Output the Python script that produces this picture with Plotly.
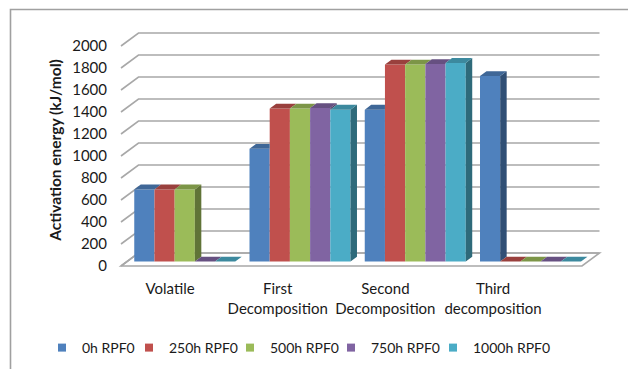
import plotly.graph_objects as go

# ---- data -------------------------------------------------------------
categories = ["Volatile", "First<br>Decomposition", "Second<br>Decomposition", "Third<br>decomposition"]
series_names = ["0h RPF0", "250h RPF0", "500h RPF0", "750h RPF0", "1000h RPF0"]
e_0h = [655, 1025, 1380, 1685]
e_250h = [655, 1390, 1790, 0]
e_500h = [655, 1390, 1790, 0]
e_750h = [0, 1395, 1795, 0]
e_1000h = [0, 1380, 1805, 0]
y_ticks = [0, 200, 400, 600, 800, 1000, 1200, 1400, 1600, 1800, 2000]

series_values = [e_0h, e_250h, e_500h, e_750h, e_1000h]
front_colors = ["#4F81BD", "#C0504D", "#9BBB59", "#8064A2", "#4BACC6"]
legend_widths = [42, 56, 56, 57, 80]


def shade(hex_color, k):
    r, g, b = (int(hex_color[i:i + 2], 16) for i in (1, 3, 5))
    return "#%02x%02x%02x" % (int(r * k), int(g * k), int(b * k))


top_colors = [shade(c, 0.80) for c in front_colors]
side_colors = [shade(c, 0.62) for c in front_colors]

# ---- page geometry (pixels) ------------------------------------------
W, H = 628, 369
FRONT_X0 = 121.0      # pixel of the front-left corner of the floor
PX_PER_CAT = 115.25   # pixels per category slot
FRONT_Y0 = 266.0      # pixel of value 0 on the front plane
PX_PER_UNIT = 0.11    # pixels per kJ/mol

DOM_L, DOM_R, DOM_T, DOM_B = 108, 610, 25, 275

x_range = [(DOM_L - FRONT_X0) / PX_PER_CAT - 0.5, (DOM_R - FRONT_X0) / PX_PER_CAT - 0.5]
y_range = [(FRONT_Y0 - DOM_B) / PX_PER_UNIT, (FRONT_Y0 - DOM_T) / PX_PER_UNIT]

# oblique depth of the whole box (front -> back wall), in axis units
WALL_DX = 17.5 / PX_PER_CAT
WALL_DY = 13.0 / PX_PER_UNIT
# columns sit partway into the box and have their own depth
COL_FRONT = 0.35
COL_DEPTH = 0.37
BAR_W = 20.2 / PX_PER_CAT
n_series = len(series_values)
n_cat = len(categories)

base = COL_FRONT * WALL_DY
shift_x = COL_FRONT * WALL_DX
bdx = COL_DEPTH * WALL_DX
bdy = COL_DEPTH * WALL_DY

fig = go.Figure()

# front faces of the columns
for k, (name, vals) in enumerate(zip(series_names, series_values)):
    centers = [c - n_series * BAR_W / 2 + (k + 0.5) * BAR_W + shift_x for c in range(n_cat)]
    fig.add_trace(go.Bar(
        x=centers, y=vals, base=[base] * n_cat, width=BAR_W,
        name=name, marker=dict(color=front_colors[k], line=dict(width=0)),
        showlegend=False, hovertemplate=name + ": %{y}<extra></extra>",
    ))

# top and side faces, trimmed where the neighbouring column hides them
for k, vals in enumerate(series_values):
    tx, ty, sx, sy = [], [], [], []
    for c in range(n_cat):
        xl = c - n_series * BAR_W / 2 + k * BAR_W + shift_x
        xr = xl + BAR_W
        top = base + vals[c]
        last = k == n_series - 1
        nxt = None if last else base + series_values[k + 1][c]
        h = top if last else min(max(nxt, top), top + bdy)
        tx += [xl, xr, xr, xr + bdx * (top + bdy - h) / bdy, xl + bdx, xl, None]
        ty += [top, top, h, top + bdy, top + bdy, top, None]
        bottom = base if last else max(base, nxt)
        if top > bottom:
            sx += [xr, xr, xr + bdx, xr + bdx, xr, None]
            sy += [bottom, top, top + bdy, bottom + bdy, bottom, None]
    fig.add_trace(go.Scatter(x=sx, y=sy, mode="lines", fill="toself",
                             fillcolor=side_colors[k], line=dict(width=0),
                             hoverinfo="skip", showlegend=False))
    fig.add_trace(go.Scatter(x=tx, y=ty, mode="lines", fill="toself",
                             fillcolor=top_colors[k], line=dict(width=0),
                             hoverinfo="skip", showlegend=False))

# legend keys
for k, name in enumerate(series_names):
    fig.add_trace(go.Scatter(x=[None], y=[None], mode="markers", name=name,
                             legendwidth=legend_widths[k],
                             marker=dict(symbol="square", size=8, color=front_colors[k])))

# empty trace so the category-label axis is laid out
fig.add_trace(go.Scatter(x=[None], y=[None], xaxis="x2", yaxis="y",
                         showlegend=False, hoverinfo="skip"))

# floor, side-wall and back-wall gridlines
GRID = "#a8a8a8"
xl0, xr0 = -0.5, n_cat - 0.5
shapes = [dict(
    type="path", xref="x", yref="y", layer="below",
    path=f"M{xl0},0 L{xr0},0 L{xr0 + WALL_DX},{WALL_DY} L{xl0 + WALL_DX},{WALL_DY} Z",
    line=dict(color=GRID, width=1.6), fillcolor="white",
)]
for v in y_ticks:
    shapes.append(dict(
        type="path", xref="x", yref="y", layer="below",
        path=f"M{xl0},{v} L{xl0 + WALL_DX},{v + WALL_DY} L{xr0 + WALL_DX},{v + WALL_DY}",
        line=dict(color=GRID, width=1.6),
    ))
# chart border
shapes.append(dict(type="rect", xref="paper", yref="paper",
                   x0=10.5 / W, x1=1.2, y0=-0.2, y1=1 - 9.5 / H,
                   line=dict(color="#a0a0a0", width=1.6), layer="below"))

FONT = "Lato"
TXT = "#1a1a1a"
fig.update_layout(
    width=W, height=H, margin=dict(l=0, r=0, t=0, b=0),
    paper_bgcolor="white", plot_bgcolor="rgba(0,0,0,0)",
    barmode="overlay", shapes=shapes,
    font=dict(family=FONT, size=15, color=TXT),
    xaxis=dict(domain=[DOM_L / W, DOM_R / W], range=x_range, visible=False, fixedrange=True),
    xaxis2=dict(domain=[116.2 / W, 546.9 / W], range=[-0.5, n_cat - 0.5], anchor="y",
                tickvals=list(range(n_cat)), ticktext=categories, showgrid=False,
                zeroline=False, showline=False, ticks="", ticklabelstandoff=3,
                tickfont=dict(family=FONT, size=15, color=TXT)),
    yaxis=dict(domain=[1 - DOM_B / H, 1 - DOM_T / H], range=y_range, tickvals=y_ticks,
               showgrid=False, zeroline=False, showline=False, ticks="",
               tickfont=dict(family=FONT, size=15, color=TXT),
               title=dict(text="<b>Activation energy (kJ/mol)</b>", standoff=6,
                          font=dict(family=FONT, size=15.5, color=TXT))),
    legend=dict(orientation="h", x=42 / W, xanchor="left", y=1 - 348 / H, yanchor="middle",
                itemwidth=30,
                font=dict(family=FONT, size=14, color=TXT), bgcolor="rgba(0,0,0,0)"),
)

fig.write_html("out.html")
